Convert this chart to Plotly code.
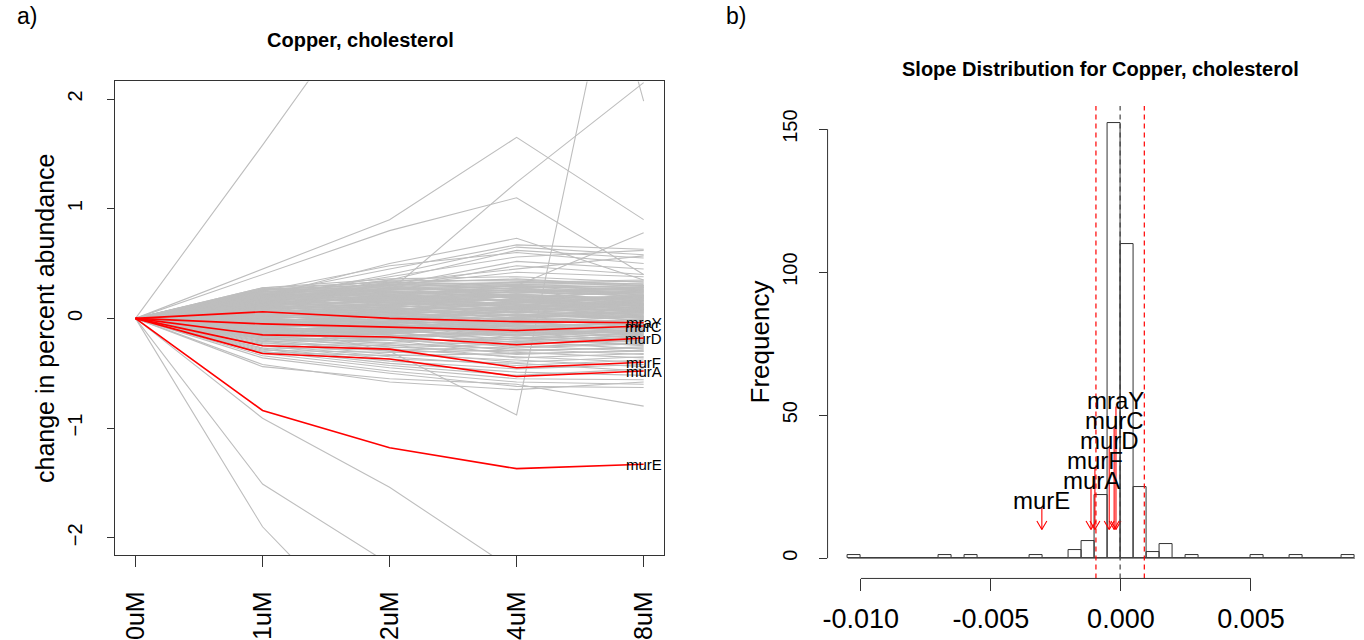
import plotly.graph_objects as go

# ---------------- data ----------------
doses = ["0uM", "1uM", "2uM", "4uM", "8uM"]

# change in percent abundance at 1, 2, 4 and 8 uM (every gene starts at 0 at 0uM)
background_genes = [
    [1.58, 3.20, 6.20, 1.98],
    [0.45, 0.90, 1.65, 0.90],
    [0.40, 0.80, 1.10, 0.40],
    [0.12, 0.25, 1.24, 2.15],
    [-0.05, -0.30, -0.88, 4.60],
    [-1.90, -3.10, -3.50, -3.50],
    [-1.51, -2.24, -3.00, -3.00],
    [-0.91, -1.54, -2.31, -2.50],
    [0.20, 0.50, 0.73, 0.35],
    [0.22, 0.45, 0.67, 0.63],
    [0.18, 0.40, 0.65, 0.58],
    [0.15, 0.35, 0.62, 0.55],
    [0.25, 0.48, 0.60, 0.50],
    [0.20, 0.38, 0.56, 0.62],
    [0.15, 0.30, 0.52, 0.45],
    [0.12, 0.28, 0.48, 0.40],
    [0.10, 0.33, 0.45, 0.57],
    [0.18, 0.30, 0.42, 0.38],
    [0.05, 0.20, 0.30, 0.78],
    [0.14, 0.32, 0.36, 0.30],
    [0.28, 0.33, 0.30, 0.25],
    [0.27, 0.30, 0.33, 0.35],
    [0.26, 0.28, 0.25, 0.20],
    [0.25, 0.22, 0.28, 0.30],
    [0.24, 0.30, 0.20, 0.15],
    [0.23, 0.26, 0.27, 0.22],
    [0.22, 0.20, 0.24, 0.27],
    [0.21, 0.25, 0.18, 0.12],
    [0.20, 0.18, 0.22, 0.24],
    [0.19, 0.22, 0.15, 0.18],
    [0.18, 0.15, 0.20, 0.10],
    [0.17, 0.20, 0.12, 0.20],
    [0.16, 0.12, 0.18, 0.14],
    [0.15, 0.18, 0.10, 0.06],
    [0.14, 0.10, 0.15, 0.19],
    [0.13, 0.15, 0.08, 0.12],
    [0.12, 0.08, 0.13, 0.05],
    [0.11, 0.12, 0.05, 0.10],
    [0.10, 0.06, 0.10, 0.16],
    [0.09, 0.10, 0.03, 0.02],
    [0.08, 0.04, 0.08, 0.08],
    [0.07, 0.08, 0.00, 0.04],
    [0.06, 0.02, 0.06, -0.02],
    [0.05, 0.05, -0.02, 0.03],
    [0.04, 0.00, 0.04, 0.00],
    [0.03, 0.03, -0.05, -0.06],
    [0.02, -0.02, 0.01, 0.06],
    [0.01, 0.01, -0.08, -0.04],
    [0.00, -0.04, -0.03, -0.10],
    [-0.01, -0.01, -0.10, -0.02],
    [-0.02, -0.06, -0.06, -0.12],
    [-0.03, -0.03, -0.12, -0.08],
    [-0.04, -0.08, -0.09, -0.15],
    [-0.05, -0.05, -0.15, -0.10],
    [-0.06, -0.10, -0.12, -0.18],
    [-0.07, -0.07, -0.18, -0.14],
    [-0.08, -0.12, -0.15, -0.22],
    [-0.09, -0.10, -0.20, -0.16],
    [-0.10, -0.15, -0.18, -0.25],
    [-0.11, -0.12, -0.24, -0.20],
    [-0.12, -0.18, -0.21, -0.28],
    [-0.13, -0.15, -0.27, -0.23],
    [-0.14, -0.20, -0.25, -0.30],
    [-0.15, -0.18, -0.30, -0.26],
    [-0.16, -0.23, -0.28, -0.33],
    [-0.17, -0.20, -0.33, -0.29],
    [-0.18, -0.26, -0.31, -0.36],
    [-0.19, -0.24, -0.36, -0.32],
    [-0.20, -0.28, -0.35, -0.40],
    [-0.21, -0.30, -0.40, -0.35],
    [-0.22, -0.33, -0.38, -0.44],
    [-0.24, -0.35, -0.43, -0.38],
    [-0.25, -0.37, -0.41, -0.48],
    [-0.27, -0.39, -0.46, -0.42],
    [-0.28, -0.41, -0.49, -0.52],
    [-0.30, -0.43, -0.52, -0.46],
    [-0.32, -0.45, -0.55, -0.56],
    [-0.34, -0.48, -0.58, -0.60],
    [-0.36, -0.50, -0.62, -0.63],
    [-0.44, -0.55, -0.60, -0.80],
    [-0.42, -0.58, -0.65, -0.58],
    [0.27, 0.24, 0.21, 0.17],
    [0.25, 0.27, 0.31, 0.28],
    [0.23, 0.16, 0.14, 0.21],
    [0.21, 0.23, 0.26, 0.13],
    [0.19, 0.14, 0.17, 0.26],
    [0.17, 0.24, 0.09, 0.15],
    [0.15, 0.09, 0.21, 0.08],
    [0.13, 0.19, 0.06, 0.17],
    [0.11, 0.05, 0.16, 0.11],
    [0.09, 0.14, 0.11, 0.01],
    [0.07, 0.00, 0.07, 0.13],
    [0.05, 0.09, 0.02, 0.07],
    [0.03, -0.05, 0.12, 0.09],
    [0.01, 0.06, -0.04, 0.02],
    [-0.01, -0.09, 0.00, -0.05],
    [-0.03, 0.02, -0.07, -0.09],
    [-0.05, -0.11, -0.01, -0.07],
    [-0.08, -0.03, -0.11, -0.13],
    [-0.10, -0.14, -0.07, -0.19],
    [-0.12, -0.07, -0.16, -0.11],
    [-0.14, -0.17, -0.13, -0.21],
    [-0.16, -0.13, -0.22, -0.17],
    [-0.18, -0.22, -0.17, -0.24],
    [0.26, 0.31, 0.27, 0.23],
    [0.24, 0.27, 0.29, 0.26],
    [0.22, 0.29, 0.23, 0.29],
    [0.20, 0.26, 0.30, 0.21],
    [0.19, 0.27, 0.25, 0.24],
    [0.18, 0.25, 0.23, 0.28],
    [0.17, 0.23, 0.28, 0.19],
    [0.16, 0.21, 0.26, 0.23],
    [0.15, 0.24, 0.19, 0.25],
    [0.14, 0.19, 0.24, 0.21],
    [0.13, 0.21, 0.22, 0.16],
    [0.12, 0.17, 0.25, 0.22],
    [0.11, 0.20, 0.19, 0.24],
    [0.10, 0.16, 0.22, 0.18],
    [0.09, 0.18, 0.17, 0.21],
    [0.08, 0.13, 0.20, 0.14],
    [0.07, 0.15, 0.14, 0.19],
    [0.06, 0.11, 0.18, 0.11],
    [0.05, 0.13, 0.12, 0.17],
    [0.04, 0.08, 0.16, 0.09],
    [0.03, 0.11, 0.10, 0.14],
    [0.02, 0.07, 0.14, 0.12],
    [0.01, 0.09, 0.08, 0.07],
    [0.00, 0.04, 0.11, 0.10],
    [-0.01, 0.06, 0.05, 0.04],
    [-0.02, 0.01, 0.09, 0.08],
    [-0.03, 0.04, 0.02, 0.01],
    [-0.04, -0.01, 0.06, 0.05],
    [-0.05, 0.02, -0.01, -0.03],
    [-0.06, -0.03, 0.03, 0.02],
    [-0.07, -0.01, -0.05, -0.01],
    [-0.08, -0.06, 0.00, -0.06],
    [-0.09, -0.04, -0.08, -0.04],
    [-0.10, -0.08, -0.04, -0.09],
    [-0.11, -0.06, -0.10, -0.07],
    [-0.12, -0.10, -0.06, -0.12],
    [-0.13, -0.09, -0.13, -0.10],
    [-0.14, -0.12, -0.09, -0.14],
    [-0.15, -0.11, -0.16, -0.12],
    [-0.16, -0.16, -0.12, -0.16],
    [0.27, 0.20, 0.16, 0.20],
    [0.25, 0.19, 0.21, 0.16],
    [0.23, 0.21, 0.15, 0.13],
    [0.21, 0.17, 0.20, 0.18],
    [0.19, 0.19, 0.13, 0.09],
    [0.17, 0.16, 0.17, 0.12],
    [0.15, 0.14, 0.11, 0.16],
    [0.13, 0.12, 0.15, 0.07],
    [0.11, 0.09, 0.09, 0.13],
    [0.09, 0.07, 0.13, 0.06],
    [0.07, 0.05, 0.06, 0.11],
    [0.05, 0.03, 0.10, 0.03],
    [0.03, 0.01, 0.03, 0.08],
    [0.01, -0.01, 0.07, 0.00],
    [-0.01, -0.03, 0.01, 0.05],
    [-0.03, -0.05, 0.04, -0.02],
    [-0.05, -0.07, -0.03, 0.01],
    [-0.07, -0.09, 0.01, -0.04],
    [-0.09, -0.11, -0.05, -0.01],
    [-0.11, -0.13, -0.02, -0.06],
    [-0.13, -0.11, -0.09, -0.03],
    [-0.15, -0.14, -0.06, -0.08],
    [-0.17, -0.16, -0.11, -0.05],
    [-0.19, -0.18, -0.14, -0.11],
    [-0.21, -0.20, -0.19, -0.13],
    [-0.23, -0.25, -0.21, -0.15],
    [-0.25, -0.27, -0.23, -0.20],
    [-0.27, -0.29, -0.26, -0.22],
    [-0.29, -0.31, -0.29, -0.27],
    [-0.31, -0.34, -0.32, -0.30],
    [0.28, 0.36, 0.38, 0.33],
    [0.26, 0.34, 0.35, 0.31],
    [0.24, 0.32, 0.32, 0.34],
    [0.22, 0.35, 0.34, 0.29],
    [0.20, 0.33, 0.31, 0.32],
    [0.18, 0.31, 0.29, 0.27],
    [0.16, 0.28, 0.33, 0.30],
    [0.14, 0.26, 0.27, 0.26],
    [0.12, 0.24, 0.30, 0.28],
    [0.10, 0.22, 0.26, 0.25],
]

genes = ["mraY", "murC", "murD", "murF", "murA", "murE"]
gene_changes = [
    [0.06, 0.00, -0.03, -0.04],
    [-0.05, -0.08, -0.11, -0.07],
    [-0.15, -0.17, -0.24, -0.18],
    [-0.25, -0.28, -0.45, -0.40],
    [-0.32, -0.37, -0.53, -0.48],
    [-0.84, -1.18, -1.37, -1.33],
]

# slope histogram
bin_start = -0.0105
bin_width = 0.0005
bin_counts = [1, 0, 0, 0, 0, 0, 0, 1, 0, 1, 0, 0, 0, 0, 1, 0, 0, 3, 6, 22,
              152, 110, 25, 2, 5, 0, 1, 0, 0, 0, 0, 1, 0, 0, 1, 0, 0, 0, 1]
slope_mean = -0.00003
slope_sd = 0.00093
gene_slopes = [-0.00019, -0.00026, -0.00045, -0.00100, -0.00115, -0.00304]
label_heights = [55, 48, 41, 34, 27, 20]
arrow_tip = 10

slope_ticks = [-0.010, -0.005, 0.000, 0.005]
slope_tick_text = ["-0.010", "-0.005", "0.000", "0.005"]
freq_ticks = [0, 50, 100, 150]

# ---------------- layout geometry ----------------
W, H = 1364, 640
FONT = "Liberation Sans, Arial, Helvetica, sans-serif"
GRAY = "#BEBEBE"
RED = "#FF0000"

def px_x(p):
    return p / W

def px_y(p):
    return (H - p) / H

left_x_dom = [px_x(110.6), px_x(661.4)]
left_y_dom = [px_y(576), px_y(84.5)]
right_x_dom = [px_x(825.6), 1.0]
right_y_dom = [px_y(600), px_y(110)]
right_x_range = [-0.01128, 0.009348]
right_y_range = [-7.08, 158.08]

fig = go.Figure()

# ---------------- panel a: abundance lines ----------------
dose_pos = list(range(1, len(doses) + 1))
gx, gy = [], []
for row in background_genes:
    gx += dose_pos + [None]
    gy += [0.0] + row + [None]
fig.add_trace(go.Scatter(x=gx, y=gy, mode="lines", xaxis="x", yaxis="y",
                         line=dict(color=GRAY, width=1.1), hoverinfo="skip",
                         showlegend=False))
for name, row in zip(genes, gene_changes):
    fig.add_trace(go.Scatter(x=dose_pos, y=[0.0] + row, mode="lines",
                             xaxis="x", yaxis="y", name=name,
                             line=dict(color=RED, width=1.6), showlegend=False))

annotations = []
for name, row in zip(genes, gene_changes):
    annotations.append(dict(x=dose_pos[-1], y=row[-1], xref="x", yref="y",
                            text=name, showarrow=False, xanchor="center",
                            yanchor="middle",
                            font=dict(family=FONT, size=15, color="black")))

# ---------------- panel b: slope histogram ----------------
centers = [bin_start + bin_width * (i + 0.5) for i in range(len(bin_counts))]
fig.add_trace(go.Bar(x=centers, y=bin_counts, width=bin_width, xaxis="x2",
                     yaxis="y2", marker=dict(color="rgba(255,255,255,0)",
                                             line=dict(color="#333333", width=1)),
                     showlegend=False))

bin_end = bin_start + bin_width * len(bin_counts)
shapes = [
    # zero-height bins along the baseline
    dict(type="line", xref="x2", yref="y2", x0=bin_start, x1=bin_end, y0=0, y1=0,
         line=dict(color="#555555", width=1)),
    # mean and mean +/- sd
    dict(type="line", xref="x2", yref="y2 domain", x0=slope_mean, x1=slope_mean,
         y0=0, y1=1, line=dict(color="#444444", width=1.2, dash="5px,4px")),
    dict(type="line", xref="x2", yref="y2 domain", x0=slope_mean - slope_sd,
         x1=slope_mean - slope_sd, y0=0, y1=1,
         line=dict(color=RED, width=1.2, dash="5px,4px")),
    dict(type="line", xref="x2", yref="y2 domain", x0=slope_mean + slope_sd,
         x1=slope_mean + slope_sd, y0=0, y1=1,
         line=dict(color=RED, width=1.2, dash="5px,4px")),
    # R-style axis lines spanning the tick range
    dict(type="line", xref="x2", yref="y2 domain", x0=slope_ticks[0],
         x1=slope_ticks[-1], y0=0, y1=0, line=dict(color="#333333", width=1)),
    dict(type="line", xref="x2 domain", yref="y2", x0=0, x1=0, y0=freq_ticks[0],
         y1=freq_ticks[-1], line=dict(color="#333333", width=1)),
]

# arrows pointing from each gene label down to its slope
x_per_px = (right_x_range[1] - right_x_range[0]) / ((right_x_dom[1] - right_x_dom[0]) * W)
y_per_px = (right_y_range[1] - right_y_range[0]) / ((right_y_dom[1] - right_y_dom[0]) * H)
head_dx = 5 * x_per_px
head_dy = 9 * y_per_px
for name, s, h in zip(genes, gene_slopes, label_heights):
    tail = h - 2
    fig.add_trace(go.Scatter(
        x=[s, s, None, s - head_dx, s, s + head_dx],
        y=[tail, arrow_tip, None, arrow_tip + head_dy, arrow_tip, arrow_tip + head_dy],
        mode="lines", xaxis="x2", yaxis="y2", line=dict(color=RED, width=1.1),
        hoverinfo="skip", showlegend=False))
    annotations.append(dict(x=s, y=h, xref="x2", yref="y2", text=name,
                            showarrow=False, xanchor="center", yanchor="middle",
                            font=dict(family=FONT, size=24, color="black")))

# ---------------- titles and panel tags ----------------
annotations += [
    dict(x=px_x(10), y=px_y(17), xref="paper", yref="paper", text="a)",
         showarrow=False, xanchor="left", yanchor="middle",
         font=dict(family=FONT, size=23, color="black")),
    dict(x=px_x(722), y=px_y(17), xref="paper", yref="paper", text="b)",
         showarrow=False, xanchor="left", yanchor="middle",
         font=dict(family=FONT, size=23, color="black")),
    dict(x=px_x(357), y=px_y(42), xref="paper", yref="paper",
         text="<b>Copper, cholesterol</b>", showarrow=False, xanchor="center",
         yanchor="middle", font=dict(family=FONT, size=20, color="black")),
    dict(x=px_x(1100), y=px_y(72), xref="paper", yref="paper",
         text="<b>Slope Distribution for Copper, cholesterol</b>", showarrow=False,
         xanchor="center", yanchor="middle",
         font=dict(family=FONT, size=20, color="black")),
    dict(x=px_x(40), y=px_y(330), xref="paper", yref="paper",
         text="change in percent abundance", showarrow=False, textangle=-90,
         xanchor="center", yanchor="middle",
         font=dict(family=FONT, size=25, color="black")),
    dict(x=px_x(758), y=px_y(355), xref="paper", yref="paper",
         text="Frequency", showarrow=False, textangle=-90,
         xanchor="center", yanchor="middle",
         font=dict(family=FONT, size=26, color="black")),
]

fig.update_layout(
    width=W, height=H, margin=dict(l=0, r=0, t=0, b=0),
    paper_bgcolor="white", plot_bgcolor="white", bargap=0,
    font=dict(family=FONT, color="black"),
    xaxis=dict(domain=left_x_dom, range=[0.84, 5.16], tickvals=dose_pos,
               ticktext=doses, tickangle=-90, ticks="outside", ticklen=11,
               tickcolor="#333333", showline=True, mirror=True,
               linecolor="#333333", linewidth=1, showgrid=False, zeroline=False,
               ticklabelstandoff=14, tickfont=dict(size=25, family=FONT)),
    yaxis=dict(domain=left_y_dom, range=[-2.16, 2.16], tickvals=[-2, -1, 0, 1, 2],
               tickangle=-90, ticks="outside", ticklen=7, tickcolor="#333333",
               showline=True, mirror=True, linecolor="#333333", linewidth=1,
               showgrid=False, zeroline=False, ticklabelstandoff=17,
               tickfont=dict(size=20, family=FONT)),
    xaxis2=dict(domain=right_x_dom, range=right_x_range, tickvals=slope_ticks,
                ticktext=slope_tick_text, ticks="outside", ticklen=12,
                tickcolor="#333333", showline=False, showgrid=False,
                zeroline=False, anchor="y2", ticklabelstandoff=4,
                tickfont=dict(size=27, family=FONT)),
    yaxis2=dict(domain=right_y_dom, range=right_y_range, tickvals=freq_ticks,
                tickangle=-90, ticks="outside", ticklen=8, tickcolor="#333333",
                showline=False, showgrid=False, zeroline=False, anchor="x2",
                ticklabelstandoff=14, tickfont=dict(size=20, family=FONT)),
    shapes=shapes,
    annotations=annotations,
)

fig.write_html("out.html")
